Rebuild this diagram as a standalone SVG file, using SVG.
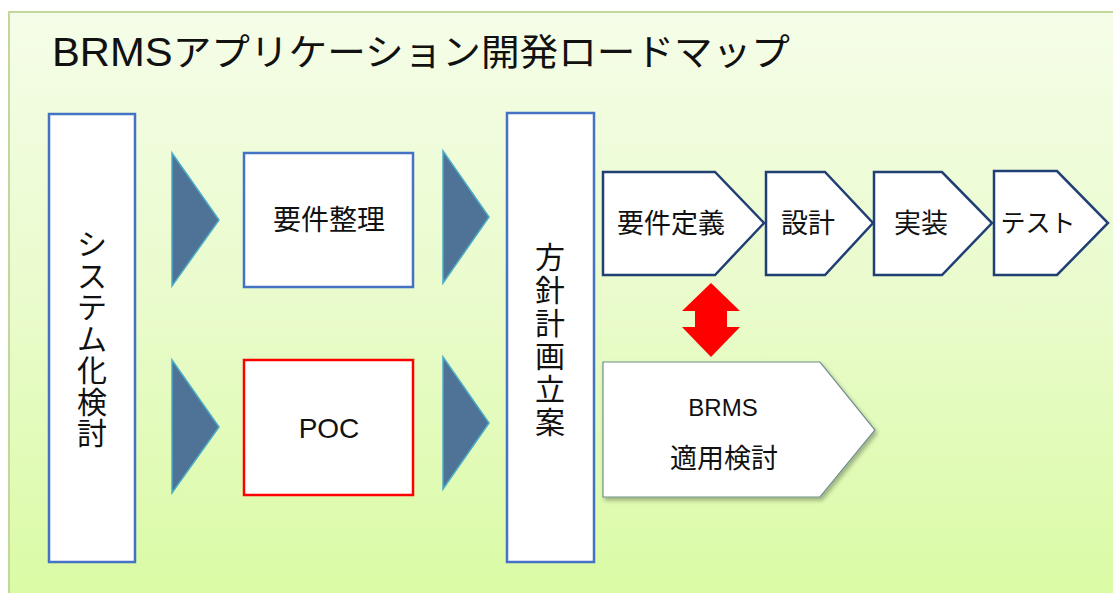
<svg xmlns="http://www.w3.org/2000/svg" width="1113" height="593" viewBox="0 0 1113 593">
<defs>
<linearGradient id="bg" x1="0" y1="0" x2="0" y2="1">
<stop offset="0" stop-color="#f5fde8"/>
<stop offset="0.5" stop-color="#e9fbcb"/>
<stop offset="1" stop-color="#dafba4"/>
</linearGradient>
<filter id="sh" x="-10%" y="-10%" width="130%" height="130%">
<feDropShadow dx="2" dy="3" stdDeviation="2" flood-color="#000" flood-opacity="0.3"/>
</filter>
</defs>
<style>
.t{font-family:"Liberation Sans","Noto Sans CJK JP",sans-serif;fill:#111;text-anchor:middle;dominant-baseline:central}
.box{fill:#fff;stroke:#4472c4;stroke-width:2.5}
.tri{fill:#4f7396;stroke:#4bacc6;stroke-width:1.5;stroke-linejoin:miter}
.pent{fill:#fff;stroke:#203f73;stroke-width:2.5;stroke-linejoin:miter}
</style>
<rect width="1113" height="593" fill="#fff"/>
<rect x="9" y="12" width="1115" height="590" fill="url(#bg)" stroke="#c3d69b" stroke-width="2"/>
<text x="52" y="66" font-family="Liberation Sans,Noto Sans CJK JP,sans-serif" font-size="37" fill="#111" textLength="738" lengthAdjust="spacingAndGlyphs"><tspan font-size="40">BRMS</tspan>アプリケーション開発ロードマップ</text>

<g id="system">
<rect class="box" x="49" y="114" width="86" height="448"/>
<text class="t" font-size="30"><tspan x="92" y="244">シ</tspan><tspan x="92" y="275.5">ス</tspan><tspan x="92" y="307">テ</tspan><tspan x="92" y="338.5">ム</tspan><tspan x="92" y="370">化</tspan><tspan x="92" y="401.5">検</tspan><tspan x="92" y="433">討</tspan></text>
</g>

<g id="youken-seiri">
<rect class="box" x="244" y="153" width="169" height="134"/>
<text class="t" x="329" y="220" font-size="28">要件整理</text>
</g>

<g id="poc">
<rect x="244" y="360" width="169" height="135" fill="#fff" stroke="#ff0000" stroke-width="2.5"/>
<text class="t" x="329" y="428" font-size="28">POC</text>
</g>

<g id="houshin">
<rect class="box" x="507" y="113" width="87" height="449"/>
<text class="t" font-size="30"><tspan x="550" y="257">方</tspan><tspan x="550" y="290">針</tspan><tspan x="550" y="323">計</tspan><tspan x="550" y="356">画</tspan><tspan x="550" y="389">立</tspan><tspan x="550" y="422">案</tspan></text>
</g>

<g id="youken-teigi">
<polygon class="pent" points="603,172 715,172 764,223 715,275 603,275"/>
<text class="t" x="671" y="224" font-size="27">要件定義</text>
</g>
<g id="sekkei">
<polygon class="pent" points="766,172 825,172 873,223 825,275 766,275"/>
<text class="t" x="808" y="224" font-size="27">設計</text>
</g>
<g id="jissou">
<polygon class="pent" points="874,172 942,172 992,223 942,275 874,275"/>
<text class="t" x="921" y="224" font-size="27">実装</text>
</g>
<g id="test">
<polygon class="pent" points="994,171 1057,171 1108,223 1057,275 994,275"/>
<text class="t" x="1038" y="223" font-size="25">テスト</text>
</g>

<g id="brms">
<polygon points="603,362 820,362 875,430 820,497 603,497" fill="#fff" stroke="#6f8f8a" stroke-width="1.2" filter="url(#sh)"/>
<text class="t" x="723" y="407.5" font-size="24">BRMS</text>
<text class="t" x="724" y="459" font-size="27">適用検討</text>
</g>

<g id="connectors">
<polygon class="tri" points="172,153 219,220 172,286"/>
<polygon class="tri" points="172,360 219,427 172,493"/>
<polygon class="tri" points="443,151 489,217 443,283"/>
<polygon class="tri" points="443,357 489,423 443,489"/>
<polygon fill="#ff0000" points="711,283 740,311 727,311 727,327 740,327 711,357 682,327 695,327 695,311 682,311"/>
</g>
</svg>
